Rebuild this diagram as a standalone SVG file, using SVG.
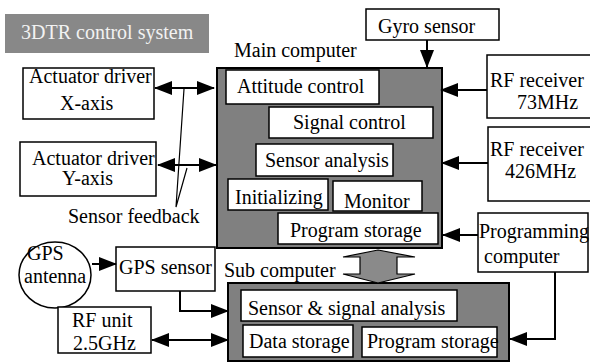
<svg xmlns="http://www.w3.org/2000/svg" width="590" height="364" viewBox="0 0 590 364" font-family="'Liberation Serif', 'Times New Roman', 'DejaVu Serif', serif" font-size="20">
  <style>
    text { font-family: "Liberation Serif", "Times New Roman", "DejaVu Serif", serif; font-size: 20px; fill: #000; }
    .box { fill: #fff; stroke: #000; stroke-width: 1.5; }
    .comp { fill: #808080; stroke: #000; stroke-width: 2; }
    .wire { fill: none; stroke: #000; stroke-width: 2; }
    .thin { fill: none; stroke: #000; stroke-width: 1.2; }
    .title { fill: #f2f2f2; }
  </style>
  <defs>
    <marker id="head" markerUnits="userSpaceOnUse" markerWidth="18" markerHeight="14" viewBox="0 0 18 14" refX="17" refY="7" orient="auto-start-reverse">
      <path d="M0,0 L18,7 L0,14 z" fill="#000"/>
    </marker>
  </defs>

  <!-- title banner -->
  <g id="title">
    <rect x="5" y="14" width="204" height="39" fill="#888"/>
    <text class="title" x="21" y="39">3DTR control system</text>
  </g>

  <!-- main computer -->
  <g id="main-computer">
    <text x="234" y="57">Main computer</text>
    <rect class="comp" x="217" y="68" width="225" height="180"/>
    <g id="attitude-control">
      <rect class="box" x="226" y="70" width="153" height="34"/>
      <text x="237" y="93">Attitude control</text>
    </g>
    <g id="signal-control">
      <rect class="box" x="269" y="107" width="164" height="31"/>
      <text x="293" y="129">Signal control</text>
    </g>
    <g id="sensor-analysis">
      <rect class="box" x="256" y="144" width="137" height="32"/>
      <text x="265" y="167">Sensor analysis</text>
    </g>
    <g id="initializing">
      <rect class="box" x="228" y="179" width="100" height="31"/>
      <text x="235" y="204">Initializing</text>
    </g>
    <g id="monitor">
      <rect class="box" x="333" y="181" width="89" height="30"/>
      <text x="344" y="208">Monitor</text>
    </g>
    <g id="main-program-storage">
      <rect class="box" x="278" y="213" width="160" height="31"/>
      <text x="290" y="237">Program storage</text>
    </g>
  </g>

  <!-- sub computer -->
  <g id="sub-computer">
    <text x="224" y="277">Sub computer</text>
    <rect class="comp" x="228" y="283" width="281" height="78"/>
    <g id="sensor-signal-analysis">
      <rect class="box" x="241" y="290" width="216" height="31"/>
      <text x="248" y="315">Sensor &amp; signal analysis</text>
    </g>
    <g id="data-storage">
      <rect class="box" x="243" y="325" width="110" height="32"/>
      <text x="249" y="348">Data storage</text>
    </g>
    <g id="sub-program-storage">
      <rect class="box" x="362" y="327" width="135" height="30"/>
      <text x="367" y="348">Program storage</text>
    </g>
  </g>

  <!-- peripherals -->
  <g id="gyro-sensor">
    <rect class="box" x="366" y="9" width="133" height="31"/>
    <text x="378" y="33">Gyro sensor</text>
  </g>
  <g id="rf-receiver-73">
    <rect class="box" x="487" y="55" width="106" height="63"/>
    <text x="490" y="87">RF receiver</text>
    <text x="517" y="109">73MHz</text>
  </g>
  <g id="rf-receiver-426">
    <rect class="box" x="488" y="127" width="105" height="74"/>
    <text x="490" y="156">RF receiver</text>
    <text x="505" y="178">426MHz</text>
  </g>
  <g id="programming-computer">
    <rect class="box" x="478" y="213" width="110" height="59"/>
    <text x="479" y="238">Programming</text>
    <text x="484" y="263">computer</text>
  </g>
  <g id="actuator-x">
    <rect class="box" x="23" y="68" width="131" height="51"/>
    <text x="29" y="83">Actuator driver</text>
    <text x="60" y="110">X-axis</text>
  </g>
  <g id="actuator-y">
    <rect class="box" x="20" y="142" width="136" height="54"/>
    <text x="32" y="165">Actuator driver</text>
    <text x="62" y="185">Y-axis</text>
  </g>
  <g id="gps-antenna">
    <ellipse class="box" cx="55" cy="275" rx="36" ry="33"/>
    <text x="27" y="260">GPS</text>
    <text x="24" y="283">antenna</text>
  </g>
  <g id="gps-sensor">
    <rect class="box" x="116" y="247" width="99" height="44"/>
    <text x="119" y="274">GPS sensor</text>
  </g>
  <g id="rf-unit">
    <rect class="box" x="58" y="307" width="93" height="46"/>
    <text x="72" y="327">RF unit</text>
    <text x="73" y="350">2.5GHz</text>
  </g>
  <g id="sensor-feedback">
    <text x="68" y="223">Sensor feedback</text>
  </g>

  <!-- connectors -->
  <g id="connectors">
    <line class="wire" x1="427" y1="40" x2="427" y2="67" marker-end="url(#head)"/>
    <line class="wire" x1="487" y1="90" x2="441" y2="90" marker-end="url(#head)"/>
    <line class="wire" x1="488" y1="163" x2="442" y2="163" marker-end="url(#head)"/>
    <line class="wire" x1="478" y1="235" x2="443" y2="235" marker-end="url(#head)"/>
    <polyline class="wire" points="555,272 555,339 510,339" marker-end="url(#head)"/>
    <line class="wire" x1="155" y1="88" x2="214" y2="88" marker-start="url(#head)" marker-end="url(#head)"/>
    <line class="wire" x1="158" y1="165" x2="216" y2="165" marker-start="url(#head)" marker-end="url(#head)"/>
    <polyline class="thin" points="184,89 176,207 187,168"/>
    <line class="wire" x1="92" y1="264" x2="116" y2="264" marker-end="url(#head)"/>
    <polyline class="wire" points="180,291 180,311 228,311" marker-end="url(#head)"/>
    <line class="wire" x1="152" y1="340" x2="228" y2="340" marker-start="url(#head)" marker-end="url(#head)"/>
    <polygon points="378,250 415,257 397,257 397,274 415,274 378,283 343,274 360,274 360,257 343,257" fill="#8a8a8a" stroke="#000" stroke-width="1.2"/>
  </g>
</svg>
